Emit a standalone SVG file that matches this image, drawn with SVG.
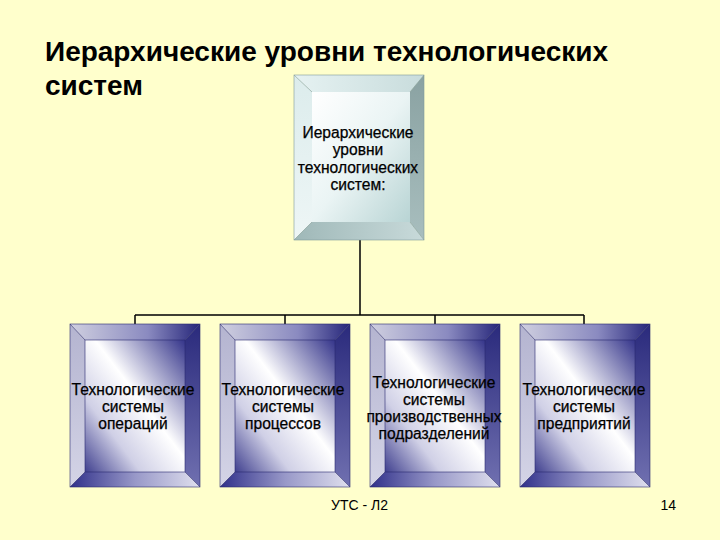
<svg xmlns="http://www.w3.org/2000/svg" xmlns:xlink="http://www.w3.org/1999/xlink" width="720" height="540" viewBox="0 0 720 540">
<style>
.title{font-family:"Liberation Sans",Arial,sans-serif;font-weight:bold;font-size:28px;fill:#000}
.lbl{font-family:"Liberation Sans",Arial,sans-serif;font-size:15.6px;fill:#000;text-anchor:middle;stroke:#000;stroke-width:0.25}
.foot{font-family:"Liberation Sans",Arial,sans-serif;font-size:14px;fill:#000}
.conn{stroke:#000;stroke-width:1.5;fill:none}
.edge{stroke:#2a2a70;stroke-width:0.6;fill:none}
.edgeT{stroke:#7f9a9a;stroke-width:0.6;fill:none}
</style>
<defs>
<linearGradient id="bTop" x1="0" y1="0" x2="1" y2="0"><stop offset="0" stop-color="#d0d0e0"/><stop offset="0.6" stop-color="#8a8ac0"/><stop offset="1" stop-color="#26267a"/></linearGradient>
<linearGradient id="bLeft" x1="0" y1="0" x2="0" y2="1"><stop offset="0" stop-color="#b4b4d0"/><stop offset="1" stop-color="#d4d4e6"/></linearGradient>
<linearGradient id="bRight" x1="0" y1="0" x2="0" y2="1"><stop offset="0" stop-color="#2a2a7c"/><stop offset="1" stop-color="#7070b0"/></linearGradient>
<linearGradient id="bBot" x1="0" y1="0" x2="1" y2="0"><stop offset="0" stop-color="#30308a"/><stop offset="0.5" stop-color="#9898c8"/><stop offset="1" stop-color="#e0e0ee"/></linearGradient>
<linearGradient id="bIn" x1="1" y1="0" x2="0" y2="1"><stop offset="0" stop-color="#34348a"/><stop offset="0.45" stop-color="#ffffff"/><stop offset="0.72" stop-color="#d0d0e6"/><stop offset="1" stop-color="#40408f"/></linearGradient>
<linearGradient id="tTop" x1="0" y1="0" x2="1" y2="0"><stop offset="0" stop-color="#e6f2f2"/><stop offset="1" stop-color="#c8dcdc"/></linearGradient>
<linearGradient id="tLeft" x1="0" y1="0" x2="0" y2="1"><stop offset="0" stop-color="#dcecec"/><stop offset="1" stop-color="#eef6f6"/></linearGradient>
<linearGradient id="tRight" x1="0" y1="0" x2="0" y2="1"><stop offset="0" stop-color="#8aa2a2"/><stop offset="1" stop-color="#a8bebe"/></linearGradient>
<linearGradient id="tBot" x1="0" y1="0" x2="1" y2="0"><stop offset="0" stop-color="#9fb8b8"/><stop offset="1" stop-color="#c8dada"/></linearGradient>
<linearGradient id="tIn" x1="0" y1="0" x2="1" y2="1"><stop offset="0" stop-color="#ffffff"/><stop offset="0.5" stop-color="#eaf4f4"/><stop offset="1" stop-color="#b8d4d4"/></linearGradient>
<g id="bframe">
<polygon points="0,0 130,0 115,16 15,16" fill="url(#bTop)"/>
<polygon points="0,0 15,16 15,148 0,163" fill="url(#bLeft)"/>
<polygon points="130,0 130,163 115,148 115,16" fill="url(#bRight)"/>
<polygon points="0,163 15,148 115,148 130,163" fill="url(#bBot)"/>
<rect x="15" y="16" width="100" height="132" fill="url(#bIn)"/>
<rect x="0" y="0" width="130" height="163" class="edge"/>
<rect x="15" y="16" width="100" height="132" class="edge"/>
<path d="M0,0 L15,16 M130,0 L115,16 M0,163 L15,148 M130,163 L115,148" class="edge"/>
</g>
</defs>
<rect width="720" height="540" fill="#ffffcc"/>
<text class="title" x="45" y="61">Иерархические уровни технологических</text>
<text class="title" x="45" y="95">систем</text>
<g id="connectors">
<path class="conn" d="M360,240 V315 M135,315 H584 M135,315 V324 M285,315 V324 M435,315 V324 M584,315 V324"/>
</g>
<g id="root">
<polygon points="294,75 424,75 410,92 312,92" fill="url(#tTop)"/>
<polygon points="294,75 312,92 312,222 294,240" fill="url(#tLeft)"/>
<polygon points="424,75 424,240 410,222 410,92" fill="url(#tRight)"/>
<polygon points="294,240 312,222 410,222 424,240" fill="url(#tBot)"/>
<rect x="312" y="92" width="98" height="130" fill="url(#tIn)"/>
<rect x="294" y="75" width="130" height="165" class="edgeT"/>
<path d="M294,75 L312,92 M424,75 L410,92 M294,240 L312,222 M424,240 L410,222" class="edgeT"/>
<text class="lbl" x="358" y="138">Иерархические</text>
<text class="lbl" x="358" y="155">уровни</text>
<text class="lbl" x="358" y="173">технологических</text>
<text class="lbl" x="358" y="190">систем:</text>
</g>
<g id="n1">
<use xlink:href="#bframe" transform="translate(70,324)"/>
<text class="lbl" x="133" y="395">Технологические</text>
<text class="lbl" x="133" y="412">системы</text>
<text class="lbl" x="133" y="429">операций</text>
</g>
<g id="n2">
<use xlink:href="#bframe" transform="translate(220,324)"/>
<text class="lbl" x="283" y="395">Технологические</text>
<text class="lbl" x="283" y="412">системы</text>
<text class="lbl" x="283" y="429">процессов</text>
</g>
<g id="n3">
<use xlink:href="#bframe" transform="translate(370,324)"/>
<text class="lbl" x="434" y="388">Технологические</text>
<text class="lbl" x="434" y="405">системы</text>
<text class="lbl" x="434" y="422">производственных</text>
<text class="lbl" x="434" y="439">подразделений</text>
</g>
<g id="n4">
<use xlink:href="#bframe" transform="translate(520,324)"/>
<text class="lbl" x="584" y="395">Технологические</text>
<text class="lbl" x="584" y="412">системы</text>
<text class="lbl" x="584" y="429">предприятий</text>
</g>
<text class="foot" x="331" y="510">УТС - Л2</text>
<text class="foot" x="676" y="510" text-anchor="end">14</text>
</svg>
